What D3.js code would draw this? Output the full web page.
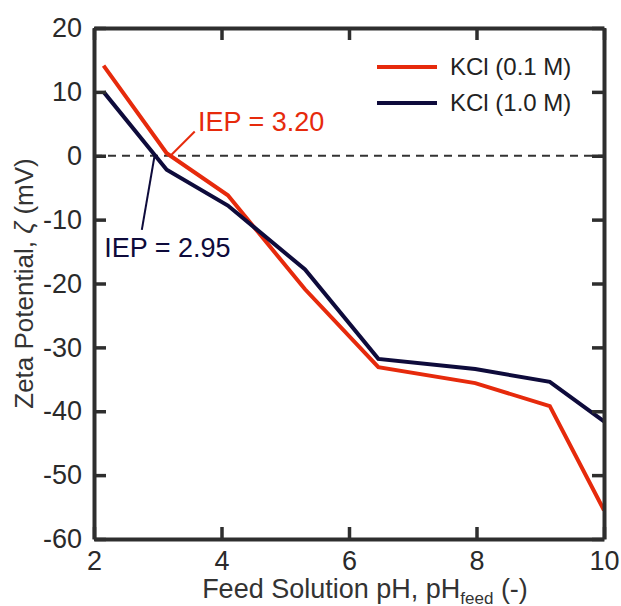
<!DOCTYPE html>
<html>
<head>
<meta charset="utf-8">
<script src="https://cdn.jsdelivr.net/npm/d3@7"></script>
<style>
  body { margin: 0; background: #fff; }
  text { font-family: "Liberation Sans", Arial, sans-serif; }
</style>
</head>
<body>
<svg class="chart"></svg>
<script>
let width = 621,
  height = 606;
let margin = { top: 28, right: 17, bottom: 67, left: 94 };

// data
let phFeed = [2.15, 3.14, 4.1, 5.31, 6.46, 7.98, 9.15, 10];
let kcl01 = [14.1, 0.4, -6.2, -20.9, -33.1, -35.6, -39.2, -55.5];
let kcl10 = [10.0, -2.2, -7.8, -17.8, -31.8, -33.4, -35.4, -41.6];
let seriesNames = ["KCl (0.1 M)", "KCl (1.0 M)"];
let seriesColors = ["#e62a0c", "#0e0b3b"];
let xTicks = [2, 4, 6, 8, 10];
let yTicks = [20, 10, 0, -10, -20, -30, -40, -50, -60];
let iepValues = [3.2, 2.95];

let axisColor = "#2e2e2e";

let svg = d3.select(".chart").attr("width", width).attr("height", height);

let x = d3.scaleLinear().domain([2, 10]).range([margin.left, width - margin.right]);
let y = d3.scaleLinear().domain([-60, 20]).range([height - margin.bottom, margin.top]);

// zero line
svg
  .append("line")
  .attr("x1", x(2))
  .attr("x2", x(10))
  .attr("y1", y(0))
  .attr("y2", y(0))
  .attr("stroke", "#333")
  .attr("stroke-width", 1.8)
  .attr("stroke-dasharray", "8,6");

// series lines
let line = d3
  .line()
  .x((d, i) => x(phFeed[i]))
  .y((d) => y(d));

[kcl01, kcl10].forEach(function (s, k) {
  svg
    .append("path")
    .datum(s)
    .attr("fill", "none")
    .attr("stroke", seriesColors[k])
    .attr("stroke-width", 4)
    .attr("stroke-linejoin", "miter")
    .attr("d", line);
});

// axes, ticks inside on all four sides
let tickLen = 12;
let fmt = (d) => String(d); // plain hyphen minus like the original
let axes = [
  d3.axisBottom(x).tickValues(xTicks).tickSizeInner(-tickLen).tickSizeOuter(0).tickPadding(12).tickFormat(fmt),
  d3.axisTop(x).tickValues(xTicks).tickSizeInner(-tickLen).tickSizeOuter(0).tickFormat(""),
  d3.axisLeft(y).tickValues(yTicks).tickSizeInner(-tickLen).tickSizeOuter(0).tickPadding(12).tickFormat(fmt),
  d3.axisRight(y).tickValues(yTicks).tickSizeInner(-tickLen).tickSizeOuter(0).tickFormat(""),
];
let translates = [
  [0, y(-60)],
  [0, y(20)],
  [x(2), 0],
  [x(10), 0],
];
axes.forEach(function (a, i) {
  let g = svg
    .append("g")
    .attr("transform", "translate(" + translates[i] + ")")
    .call(a);
  g.select(".domain").attr("stroke", axisColor).attr("stroke-width", 4);
  g.selectAll(".tick line").attr("stroke", axisColor).attr("stroke-width", 3.5);
  g.selectAll(".tick text")
    .attr("fill", "#2a2a2a")
    .style("font-size", "27px")
    .style("font-family", "Liberation Sans, Arial, sans-serif");
});

// axis titles
let xTitle = svg
  .append("text")
  .attr("x", 365)
  .attr("y", 598)
  .attr("text-anchor", "middle")
  .attr("fill", "#333")
  .style("font-size", "27px");
xTitle.append("tspan").text("Feed Solution pH, pH");
xTitle.append("tspan").attr("dy", 6).style("font-size", "17px").text("feed");
xTitle.append("tspan").attr("dy", -6).text(" (-)");

let yTitle = svg
  .append("text")
  .attr("transform", "translate(33," + (y(20) + y(-60)) / 2 + ") rotate(-90)")
  .attr("text-anchor", "middle")
  .attr("fill", "#333")
  .style("font-size", "26px");
yTitle.append("tspan").text("Zeta Potential, ");
yTitle.append("tspan").style("font-style", "italic").text("ζ");
yTitle.append("tspan").text(" (mV)");

// IEP annotations
let labels = [
  { lx: 3.58, ly: 3.8, tx: 3.63, ty: 3.8 },
  { lx: 2.75, ly: -11.6, tx: 2.16, ty: -15.8 },
];
labels.forEach(function (d, k) {
  svg
    .append("line")
    .attr("x1", x(iepValues[k]))
    .attr("y1", y(0))
    .attr("x2", x(d.lx))
    .attr("y2", y(d.ly))
    .attr("stroke", seriesColors[k])
    .attr("stroke-width", 2);
  svg
    .append("text")
    .attr("x", x(d.tx))
    .attr("y", y(d.ty))
    .attr("fill", seriesColors[k])
    .style("font-size", "27px")
    .text("IEP = " + iepValues[k].toFixed(2));
});

// legend
let legend = svg.append("g").attr("transform", "translate(377,67)");
seriesNames.forEach(function (name, k) {
  legend
    .append("line")
    .attr("x1", 0)
    .attr("x2", 60)
    .attr("y1", k * 36)
    .attr("y2", k * 36)
    .attr("stroke", seriesColors[k])
    .attr("stroke-width", 4);
  legend
    .append("text")
    .attr("x", 73)
    .attr("y", k * 36)
    .attr("dy", "0.35em")
    .attr("fill", "#222")
    .style("font-size", "24px")
    .text(name);
});
</script>
</body>
</html>
